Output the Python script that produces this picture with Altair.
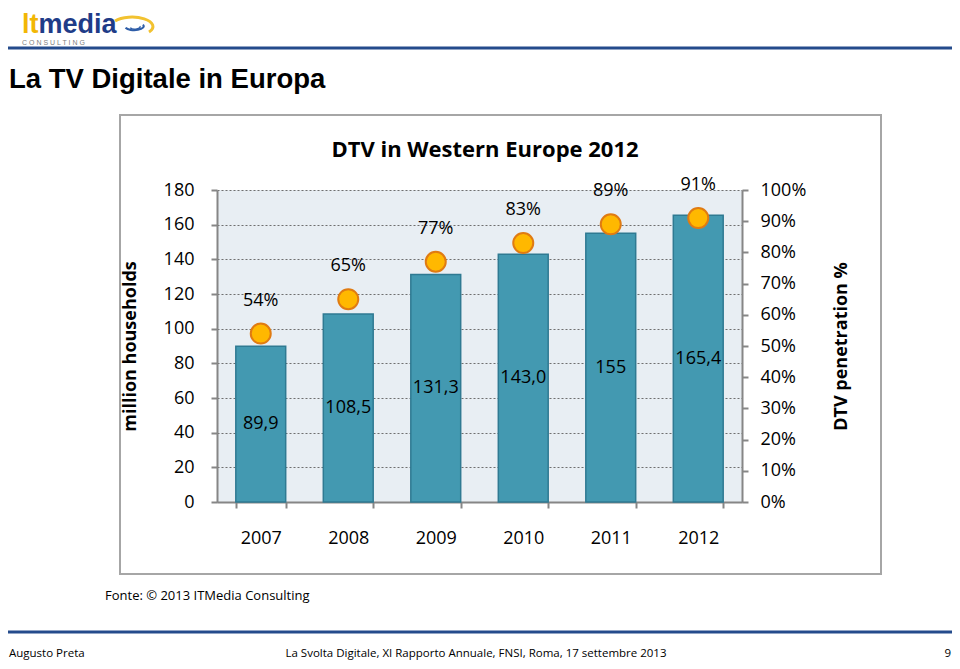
import altair as alt
import pandas as pd

# ---- data ----
years = ["2007", "2008", "2009", "2010", "2011", "2012"]
households = [89.9, 108.5, 131.3, 143.0, 155.0, 165.4]
household_labels = ["89,9", "108,5", "131,3", "143,0", "155", "165,4"]
penetration = [0.54, 0.65, 0.77, 0.83, 0.89, 0.91]
penetration_labels = ["54%", "65%", "77%", "83%", "89%", "91%"]
left_ticks = [0, 20, 40, 60, 80, 100, 120, 140, 160, 180]
right_ticks = [i / 10 for i in range(11)]

df = pd.DataFrame({
    "year": years,
    "households": households,
    "hlabel": household_labels,
    "penetration": penetration,
    "plabel": penetration_labels,
})
one = pd.DataFrame({"k": [0]})

FONT = "Open Sans"
GRAY = "#868686"
W, H = 525, 312

xenc = alt.X(
    "year:N",
    scale=alt.Scale(paddingInner=0.43, paddingOuter=0.215),
    axis=alt.Axis(
        title=None, labelAngle=0, labelFont=FONT, labelFontSize=18, labelColor="black",
        labelPadding=21, tickBand="extent", tickSize=6, tickColor=GRAY, tickWidth=2,
        domainColor=GRAY, domainWidth=2, grid=False,
    ),
)

left_axis = alt.Axis(
    values=left_ticks, title="million households", titleFont=FONT, titleFontSize=18,
    titleFontWeight="bold", titleColor="black", titleAngle=270, titleX=-87, titleY=H / 2,
    titleAlign="center", titleBaseline="middle",
    labelFont=FONT, labelFontSize=18, labelColor="black", labelPadding=17,
    tickSize=6, tickColor=GRAY, tickWidth=2, domainColor=GRAY, domainWidth=2,
    grid=True, gridColor="#6F6F6F", gridDash=[2, 2], gridWidth=1, orient="left",
)
right_axis = alt.Axis(
    values=right_ticks, format=".0%", title="DTV penetration %", titleFont=FONT,
    titleFontSize=18, titleFontWeight="bold", titleColor="black", titleAngle=270,
    titleX=99, titleY=H / 2, titleAlign="center", titleBaseline="middle",
    labelFont=FONT, labelFontSize=18, labelColor="black", labelPadding=12,
    tickSize=6, tickColor=GRAY, tickWidth=2, domainColor=GRAY, domainWidth=2,
    grid=False, orient="right",
)

bars = alt.Chart(df).mark_bar(color="#4399B1", stroke="#2F7A92", strokeWidth=1.5).encode(
    x=xenc,
    y=alt.Y("households:Q", scale=alt.Scale(domain=[0, 180]), axis=left_axis),
)
bar_labels = alt.Chart(df).transform_calculate(mid="datum.households / 2").mark_text(
    font=FONT, fontSize=18, color="black", baseline="middle"
).encode(
    x=xenc,
    y=alt.Y("mid:Q", scale=alt.Scale(domain=[0, 180]), axis=left_axis),
    text="hlabel:N",
)
left = alt.layer(bars, bar_labels)

points = alt.Chart(df).mark_point(
    filled=True, size=400, fill="#FFB800", stroke="#E07B12", strokeWidth=2, opacity=1
).encode(
    x=xenc,
    y=alt.Y("penetration:Q", scale=alt.Scale(domain=[0, 1]), axis=right_axis),
)
pct_labels = alt.Chart(df).mark_text(
    font=FONT, fontSize=18, color="black", baseline="middle", dy=-33
).encode(
    x=xenc,
    y=alt.Y("penetration:Q", scale=alt.Scale(domain=[0, 1]), axis=right_axis),
    text="plabel:N",
)
right = alt.layer(points, pct_labels)

# ---- slide decorations ----
box = alt.Chart(one).mark_rect(fill="white", fillOpacity=0, stroke="#A6A6A6", strokeWidth=2).encode(
    x=alt.value(-97), x2=alt.value(664), y=alt.value(-75), y2=alt.value(384)
)


def txt(s, x, y, size, weight="normal", color="black", font=FONT, align="left", baseline="middle"):
    return alt.Chart(one).mark_text(
        font=font, fontSize=size, fontWeight=weight, color=color, align=align, baseline=baseline
    ).encode(x=alt.value(x), y=alt.value(y), text=alt.value(s))


def hline(y, x1, x2, color="#244B8C", w=3):
    return alt.Chart(one).mark_rule(color=color, strokeWidth=w).encode(
        x=alt.value(x1), x2=alt.value(x2), y=alt.value(y)
    )


def swoosh(path, x, y, size, color, w):
    return alt.Chart(one).mark_point(
        shape=path, filled=False, stroke=color, strokeWidth=w, size=size, opacity=1
    ).encode(x=alt.value(x), y=alt.value(y))


decor = [
    box,
    txt("DTV in Western Europe 2012", 268, -40, 22, weight="bold", align="center"),
    txt("La TV Digitale in Europa", -208, -102, 27.5, weight="bold", font="Liberation Sans", baseline="alphabetic"),
    txt("lt", -195, -157, 27, weight="bold", color="#F2B705", font="Liberation Sans", baseline="alphabetic"),
    txt("media", -178.5, -157, 27, weight="bold", color="#1F3C88", font="Liberation Sans", baseline="alphabetic"),
    txt("C O N S U L T I N G", -195, -147, 7, color="#7F7F7F", font="Liberation Sans"),
    swoosh("M -1 -0.2 A 1 0.45 0 0 1 0.7 0.35", -82, -165, 1600, "#F2C230", 3),
    swoosh("M -0.6 0.05 A 0.6 0.25 0 1 0 0.5 -0.15", -82, -163, 1000, "#2E5DA8", 2),
    swoosh("M -0.3 0.05 A 0.3 0.13 0 1 0 0.3 -0.05", -82, -163, 1000, "#2E5DA8", 1.5),
    hline(-142, -212, 760),
    txt("Fonte: \u00a9 2013 ITMedia Consulting", -112, 406, 13),
    hline(442, -212, 760),
    txt("Augusto Preta", -208, 464, 11.5),
    txt("La Svolta Digitale, XI Rapporto Annuale, FNSI, Roma, 17 settembre 2013", 259, 464, 11.5, align="center"),
    txt("9", 734, 464, 11.5, align="right"),
]

chart = alt.layer(*decor, left, right).resolve_scale(y="independent").properties(
    width=W, height=H,
    autosize=alt.AutoSizeParams(type="none"),
    padding={"left": 209, "top": 182, "right": 210, "bottom": 159},
    background="white",
).configure_view(stroke=None, fill="#E8EEF3")

chart.save("out.html", embed_options={"renderer": "svg", "actions": False})
